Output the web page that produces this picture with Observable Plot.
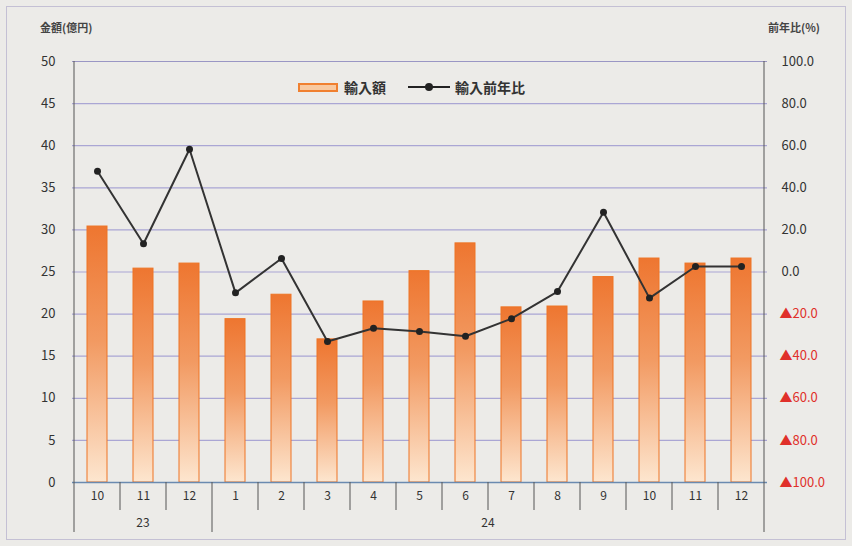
<!DOCTYPE html>
<html><head><meta charset="utf-8">
<script src="https://cdn.jsdelivr.net/npm/d3@7"></script>
<script src="https://cdn.jsdelivr.net/npm/@observablehq/plot@0.6"></script>
<style>
body{margin:0;background:#ecebe8;}
#wrap{position:relative;width:852px;height:546px;font-family:"Noto Sans CJK JP","Noto Sans",sans-serif;color:#333;}
#wrap svg{display:block;background:#ecebe8;outline:1px solid #c4c0d4;outline-offset:-7px;}
.ttl{position:absolute;font-size:11px;font-weight:bold;color:#444;white-space:nowrap;}
#legend{position:absolute;left:298px;top:77px;display:flex;align-items:center;font-size:14px;font-weight:bold;color:#333;}
#legend .sw{width:40px;height:9px;border:2px solid #f08030;background:#f8c9a0;margin-right:6px;box-sizing:border-box;}
#legend .ln{width:42px;height:2px;background:#222;position:relative;margin:0 5px 0 22px;}
#legend .ln::after{content:"";position:absolute;left:17px;top:-3px;width:8px;height:8px;border-radius:50%;background:#222;}
</style></head><body><div id="wrap"></div>
<script>
const years  = ["23","23","23","24","24","24","24","24","24","24","24","24","24","24","24"];
const months = ["10","11","12","1","2","3","4","5","6","7","8","9","10","11","12"];
const imports = [30.4,25.4,26.0,19.4,22.3,17.0,21.5,25.1,28.4,20.8,20.9,24.4,26.6,26.0,26.6];
const yoy = [47.9,13.4,58.3,-9.9,6.4,-33.0,-26.7,-28.3,-30.5,-22.2,-9.3,28.4,-12.4,2.6,2.6];
const leftTicks = [0,5,10,15,20,25,30,35,40,45,50];
const rightTicks = [-100,-80,-60,-40,-20,0,20,40,60,80,100];
const leftTitle = "金額(億円)";
const rightTitle = "前年比(%)";
const seriesNames = ["輸入額","輸入前年比"];

const data = months.map((m,i)=>({key: years[i]+"-"+m, year: years[i], month: m, value: imports[i], yoy: yoy[i]}));
const toLeft = p => (p + 100) / 4;
const fmtR = p => p < 0 ? "▲" + Math.abs(p).toFixed(1) : p.toFixed(1);

const defs = () => {
  const d = d3.create("svg:defs");
  const g = d.append("linearGradient").attr("id","barGrad").attr("x1",0).attr("y1",0).attr("x2",0).attr("y2",1);
  g.append("stop").attr("offset","0%").attr("stop-color","#ee7630");
  g.append("stop").attr("offset","45%").attr("stop-color","#f29a62");
  g.append("stop").attr("offset","100%").attr("stop-color","#fde6cf");
  return d.node();
};

const xDecor = (index, scales, values, dims) => {
  const x = scales.x, bw = x.bandwidth(), step = x.step();
  const gap = (step - bw) / 2;
  const y0 = dims.height - dims.marginBottom;
  const yTop = dims.marginTop;
  const g = d3.create("svg:g");
  const lines = g.append("g").attr("stroke","#555").attr("stroke-width",1);
  data.forEach((d,i) => {
    const xx = x(d.key) - gap;
    const yb = i === 0 || d.year !== data[i-1].year;
    lines.append("line").attr("x1",xx).attr("x2",xx).attr("y1",y0).attr("y2",y0 + (yb ? 50 : 28));
  });
  const xs = x(data[0].key) - gap;
  const xe = x(data[data.length-1].key) + bw + gap;
  lines.append("line").attr("x1",xe).attr("x2",xe).attr("y1",y0).attr("y2",y0+50);
  lines.append("line").attr("x1",xs).attr("x2",xs).attr("y1",yTop).attr("y2",y0);
  lines.append("line").attr("x1",xe).attr("x2",xe).attr("y1",yTop).attr("y2",y0);
  const groups = d3.groups(data, d => d.year);
  groups.forEach(([yr, arr]) => {
    const c = d3.mean(arr, d => x(d.key) + bw/2);
    g.append("text").attr("x",c).attr("y",y0+45).attr("text-anchor","middle")
      .attr("font-size",12).attr("fill","#333").text(yr);
  });
  return g.node();
};

const plot = Plot.plot({
  width: 852, height: 546,
  marginLeft: 72, marginRight: 85, marginTop: 61, marginBottom: 64,
  style: {background: "#ecebe8", fontFamily: "'Noto Sans CJK JP','Noto Sans',sans-serif", fontSize: "13px"},
  x: {type: "band", domain: data.map(d=>d.key), paddingInner: 0.56, paddingOuter: 0.28, axis: null},
  y: {domain: [0, 50], axis: null},
  marks: [
    defs,
    Plot.ruleY(leftTicks.filter(v => v > 0 && v < 50), {stroke: "#aaa6d4", strokeWidth: 1.2}),
    Plot.ruleY([50], {stroke: "#9a96c4", strokeWidth: 1.2}),
    Plot.barY(data, {x: "key", y: "value", fill: "url(#barGrad)", stroke: "#ee7424", strokeWidth: 1}),
    Plot.ruleY([0], {stroke: "#6a8ab0", strokeWidth: 1.5}),
    Plot.lineY(data, {x: "key", y: d => toLeft(d.yoy), stroke: "#333", strokeWidth: 2}),
    Plot.dot(data, {x: "key", y: d => toLeft(d.yoy), r: 3.5, fill: "#222", stroke: "none"}),
    Plot.axisY({anchor: "left", ticks: leftTicks, tickSize: 0, tickPadding: 17, label: null, fill: "#333", fontSize: 13}),
    Plot.axisY({anchor: "right", ticks: rightTicks.filter(p=>p>=0).map(toLeft), tickFormat: v => fmtR(v*4-100), tickSize: 0, tickPadding: 14, textAnchor: "start", label: null, fill: "#333", fontSize: 13}),
    Plot.axisY({anchor: "right", ticks: rightTicks.filter(p=>p<0).map(toLeft), tickFormat: v => fmtR(v*4-100), tickSize: 0, tickPadding: 12, textAnchor: "start", label: null, fill: "#e0302a", fontSize: 13}),
    Plot.axisX({tickSize: 0, tickPadding: 9, label: null, tickFormat: k => k.split("-")[1], fill: "#333", fontSize: 12}),
    xDecor
  ]
});
const wrap = document.getElementById("wrap");
wrap.appendChild(plot);
const t1 = document.createElement("div"); t1.className="ttl"; t1.style.left="40px"; t1.style.top="19px"; t1.textContent=leftTitle; wrap.appendChild(t1);
const t2 = document.createElement("div"); t2.className="ttl"; t2.style.left="768px"; t2.style.top="19px"; t2.textContent=rightTitle; wrap.appendChild(t2);
const lg = document.createElement("div"); lg.id="legend";
lg.innerHTML = `<span class="sw"></span><span>${seriesNames[0]}</span><span class="ln"></span><span>${seriesNames[1]}</span>`;
wrap.appendChild(lg);
</script>
</body></html>
